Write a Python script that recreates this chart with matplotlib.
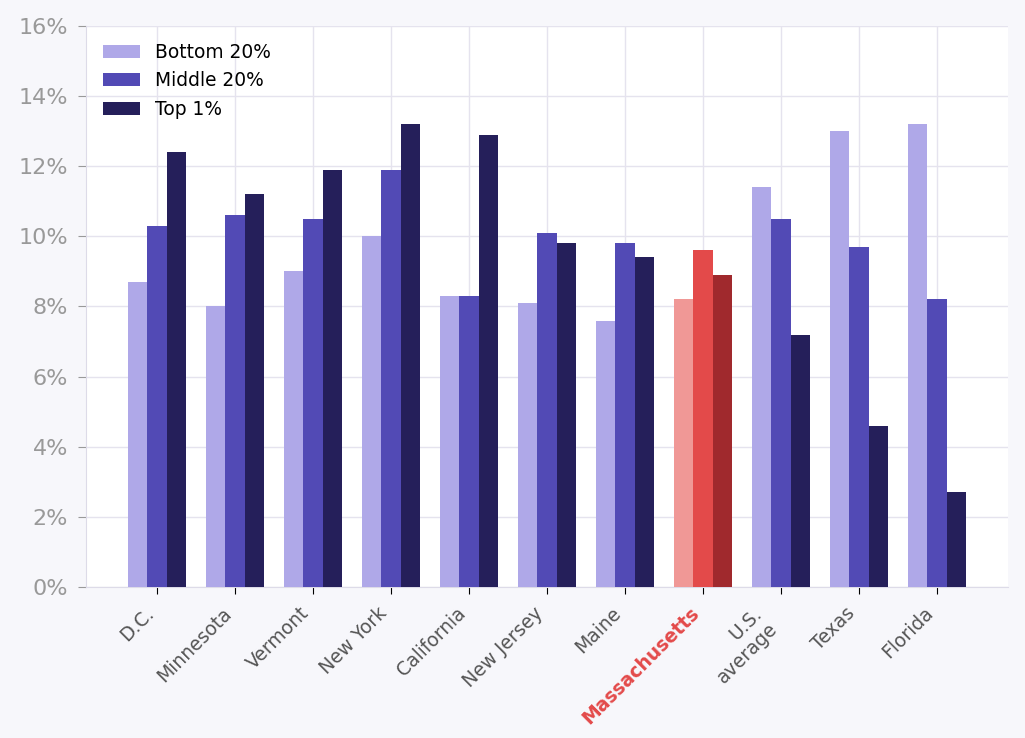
import matplotlib
matplotlib.use("Agg")
import matplotlib.pyplot as plt
import numpy as np
from matplotlib.ticker import FuncFormatter

# data
states = ["D.C.", "Minnesota", "Vermont", "New York", "California", "New Jersey",
          "Maine", "Massachusetts", "U.S.\naverage", "Texas", "Florida"]
bottom_20 = [8.7, 8.0, 9.0, 10.0, 8.3, 8.1, 7.6, 8.2, 11.4, 13.0, 13.2]
middle_20 = [10.3, 10.6, 10.5, 11.9, 8.3, 10.1, 9.8, 9.6, 10.5, 9.7, 8.2]
top_1 = [12.4, 11.2, 11.9, 13.2, 12.9, 9.8, 9.4, 8.9, 7.2, 4.6, 2.7]
series_names = ["Bottom 20%", "Middle 20%", "Top 1%"]
highlight = "Massachusetts"

colors = ["#afa8e8", "#524ab5", "#251f5a"]
hl_colors = ["#f09896", "#e34a4a", "#a0292d"]

fig = plt.figure(figsize=(10.25, 7.38), dpi=100, facecolor="#f7f7fb")
ax = fig.add_axes([0.084, 0.2046, 0.8994, 0.7602])
ax.set_facecolor("white")

x = np.arange(len(states))
width = 0.25
hl_idx = states.index(highlight)
for i, (vals, name) in enumerate(zip([bottom_20, middle_20, top_1], series_names)):
    cols = [hl_colors[i] if j == hl_idx else colors[i] for j in range(len(states))]
    ax.bar(x + (i - 1) * width, vals, width, color=cols, label=name, zorder=3)

ax.set_ylim(0, 16)
ax.set_yticks(range(0, 17, 2))
ax.yaxis.set_major_formatter(FuncFormatter(lambda v, _: f"{v:.0f}%"))
ax.set_xticks(x)
ax.set_xticklabels(states, rotation=45, ha="right", fontsize=13.5, color="#555555")
for lbl in ax.get_xticklabels():
    if lbl.get_text() == highlight:
        lbl.set_color("#e34a4a")
        lbl.set_fontweight("bold")

ax.tick_params(axis="y", labelsize=16, labelcolor="#999999", color="#999999",
               length=6, pad=7)
ax.tick_params(axis="x", length=5, pad=7)
ax.grid(True, color="#e5e3ee", linewidth=1, zorder=0)
ax.set_axisbelow(True)
for side in ["top", "right"]:
    ax.spines[side].set_visible(False)
for side in ["left", "bottom"]:
    ax.spines[side].set_color("#dddbe8")

leg = ax.legend(loc="upper left", frameon=False, fontsize=13.4,
                handlelength=2.0, handleheight=0.7, borderaxespad=0.5,
                labelspacing=0.52)
# legend patches keep the normal colours
for patch, c in zip(leg.get_patches(), colors):
    patch.set_facecolor(c)

fig.savefig("out.png", dpi=100, facecolor=fig.get_facecolor())
